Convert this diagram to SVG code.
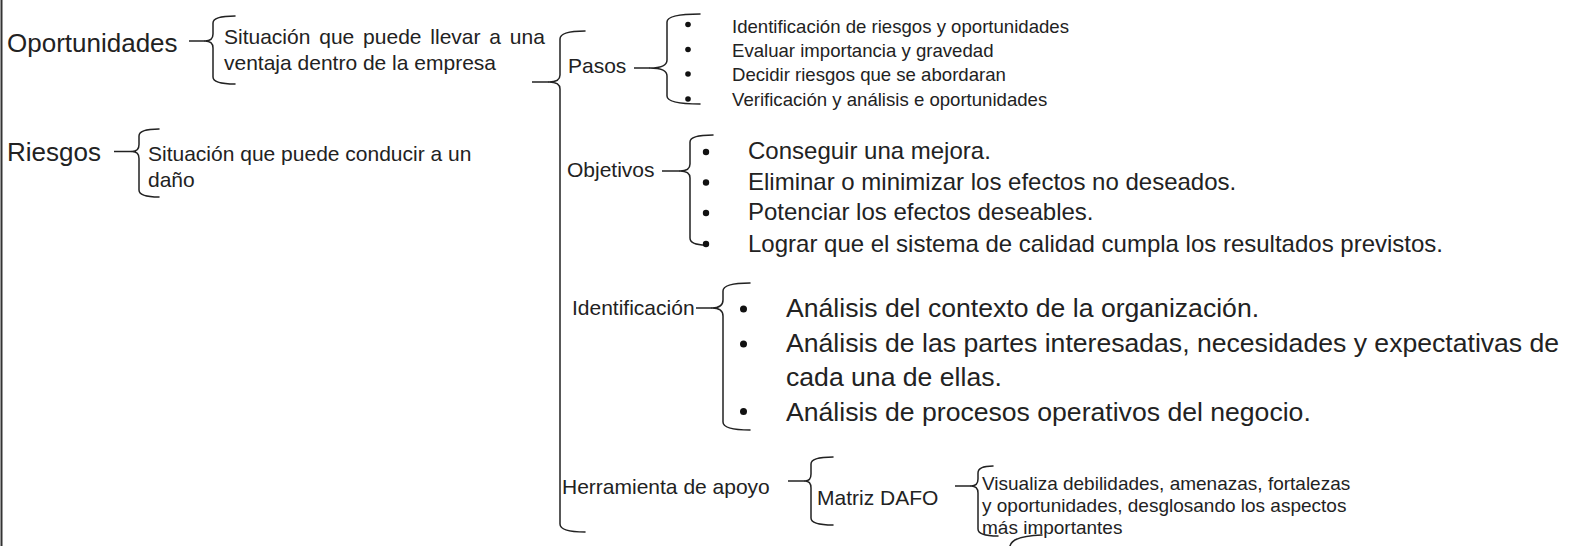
<svg xmlns="http://www.w3.org/2000/svg" width="1584" height="546" viewBox="0 0 1584 546">
<style>
.t{font-family:"Liberation Sans",Arial,Helvetica,sans-serif;fill:#222}
.br{fill:none;stroke:#222;stroke-width:1.5;stroke-linecap:round;stroke-linejoin:round}
.ln{stroke:#222;stroke-width:1.5}
.bul{fill:#111}
.f26{font-size:26px}.f21{font-size:21px}.f19{font-size:19px}.f186{font-size:18.6px}.f24{font-size:24px}.f27{font-size:26.6px}
</style>
<rect x="0" y="0" width="1584" height="546" fill="#fff"/>
<line x1="1.5" y1="0" x2="1.5" y2="546" stroke="#333" stroke-width="2"/>

<g id="connectors">
  <!-- Oportunidades -->
  <line class="ln" x1="189" y1="41" x2="205" y2="41"/>
  <path class="br" d="M235,16 Q213,16 213,23 L213,34 Q213,41 205,41 Q213,41 213,48 L213,77 Q213,84 235,84"/>
  <!-- Riesgos -->
  <line class="ln" x1="114" y1="151.5" x2="132" y2="151.5"/>
  <path class="br" d="M159,129 Q139,129 139,136 L139,144.5 Q139,151.5 132,151.5 Q139,151.5 139,158.5 L139,190 Q139,197 159,197"/>
  <!-- main brace -->
  <line class="ln" x1="532" y1="82" x2="549" y2="82"/>
  <path class="br" d="M585,31 Q560,31 560,39 L560,75 Q560,82 549,82 Q560,82 560,89 L560,524 Q560,532 585,532"/>
  <!-- Pasos -->
  <line class="ln" x1="634" y1="68" x2="650" y2="68"/>
  <path class="br" d="M700,14 Q667,14 667,22 L667,60 Q667,68 650,68 Q667,68 667,76 L667,96 Q667,104 700,104"/>
  <!-- Objetivos -->
  <line class="ln" x1="662" y1="171" x2="680" y2="171"/>
  <path class="br" d="M713,135 Q690,135 690,142 L690,164 Q690,171 680,171 Q690,171 690,178 L690,238 Q690,245 706,245"/>
  <!-- Identificacion -->
  <line class="ln" x1="696" y1="308" x2="712" y2="308"/>
  <path class="br" d="M750,283 Q723,283 723,291 L723,300 Q723,308 712,308 Q723,308 723,316 L723,422 Q723,430 750,430"/>
  <!-- Herramienta -->
  <line class="ln" x1="788" y1="481" x2="805" y2="481"/>
  <path class="br" d="M833,457 Q811,457 811,464 L811,474 Q811,481 805,481 Q811,481 811,488 L811,518 Q811,525 833,525"/>
  <!-- DAFO -->
  <line class="ln" x1="955" y1="486" x2="971" y2="486"/>
  <path class="br" d="M993,466 Q978,466 978,473 L978,479 Q978,486 971,486 Q978,486 978,493 L978,529 Q978,536 998,536"/>
  <!-- partial brace cut off at bottom -->
  <path class="br" d="M1042,535 Q1012,536 1010,546"/>
</g>

<g id="n-oportunidades">
  <text class="t f26" x="7" y="52">Oportunidades</text>
</g>
<g id="n-oportunidades-def">
  <text class="t f21" x="224" y="44" word-spacing="3">Situación que puede llevar a una</text>
  <text class="t f21" x="224" y="69.5">ventaja dentro de la empresa</text>
</g>
<g id="n-riesgos">
  <text class="t f26" x="7" y="161">Riesgos</text>
</g>
<g id="n-riesgos-def">
  <text class="t f21" x="148" y="161">Situación que puede conducir a un</text>
  <text class="t f21" x="148" y="187">daño</text>
</g>

<g id="n-pasos">
  <text class="t f21" x="568" y="73">Pasos</text>
</g>
<g id="n-pasos-list">
  <circle class="bul" cx="688" cy="24.5" r="2.8"/>
  <circle class="bul" cx="688" cy="49.5" r="2.8"/>
  <circle class="bul" cx="688" cy="74" r="2.8"/>
  <circle class="bul" cx="688" cy="99" r="2.8"/>
  <text class="t f186" x="732" y="33">Identificación de riesgos y oportunidades</text>
  <text class="t f186" x="732" y="57">Evaluar importancia y gravedad</text>
  <text class="t f186" x="732" y="81">Decidir riesgos que se abordaran</text>
  <text class="t f186" x="732" y="105.5">Verificación y análisis e oportunidades</text>
</g>

<g id="n-objetivos">
  <text class="t f21" x="567" y="176.5">Objetivos</text>
</g>
<g id="n-objetivos-list">
  <circle class="bul" cx="706" cy="152" r="3.2"/>
  <circle class="bul" cx="706" cy="182.5" r="3.2"/>
  <circle class="bul" cx="706" cy="213" r="3.2"/>
  <circle class="bul" cx="706" cy="244" r="3.2"/>
  <text class="t f24" x="748" y="159">Conseguir una mejora.</text>
  <text class="t f24" x="748" y="189.5">Eliminar o minimizar los efectos no deseados.</text>
  <text class="t f24" x="748" y="220">Potenciar los efectos deseables.</text>
  <text class="t f24" x="748" y="251.5">Lograr que el sistema de calidad cumpla los resultados previstos.</text>
</g>

<g id="n-identificacion">
  <text class="t f21" x="572" y="315">Identificación</text>
</g>
<g id="n-identificacion-list">
  <circle class="bul" cx="743.5" cy="309" r="3.5"/>
  <circle class="bul" cx="743.5" cy="344" r="3.5"/>
  <circle class="bul" cx="743.5" cy="411.5" r="3.5"/>
  <text class="t f27" x="786" y="317">Análisis del contexto de la organización.</text>
  <text class="t f27" x="786" y="352">Análisis de las partes interesadas, necesidades y expectativas de</text>
  <text class="t f27" x="786" y="385.5">cada una de ellas.</text>
  <text class="t f27" x="786" y="420.5">Análisis de procesos operativos del negocio.</text>
</g>

<g id="n-herramienta">
  <text class="t f21" x="562" y="493.5">Herramienta de apoyo</text>
</g>
<g id="n-matriz">
  <text class="t f21" x="817" y="504.5">Matriz DAFO</text>
</g>
<g id="n-dafo-def">
  <text class="t f19" x="982" y="490">Visualiza debilidades, amenazas, fortalezas</text>
  <text class="t f19" x="982" y="512">y oportunidades, desglosando los aspectos</text>
  <text class="t f19" x="982" y="534">más importantes</text>
</g>
</svg>
